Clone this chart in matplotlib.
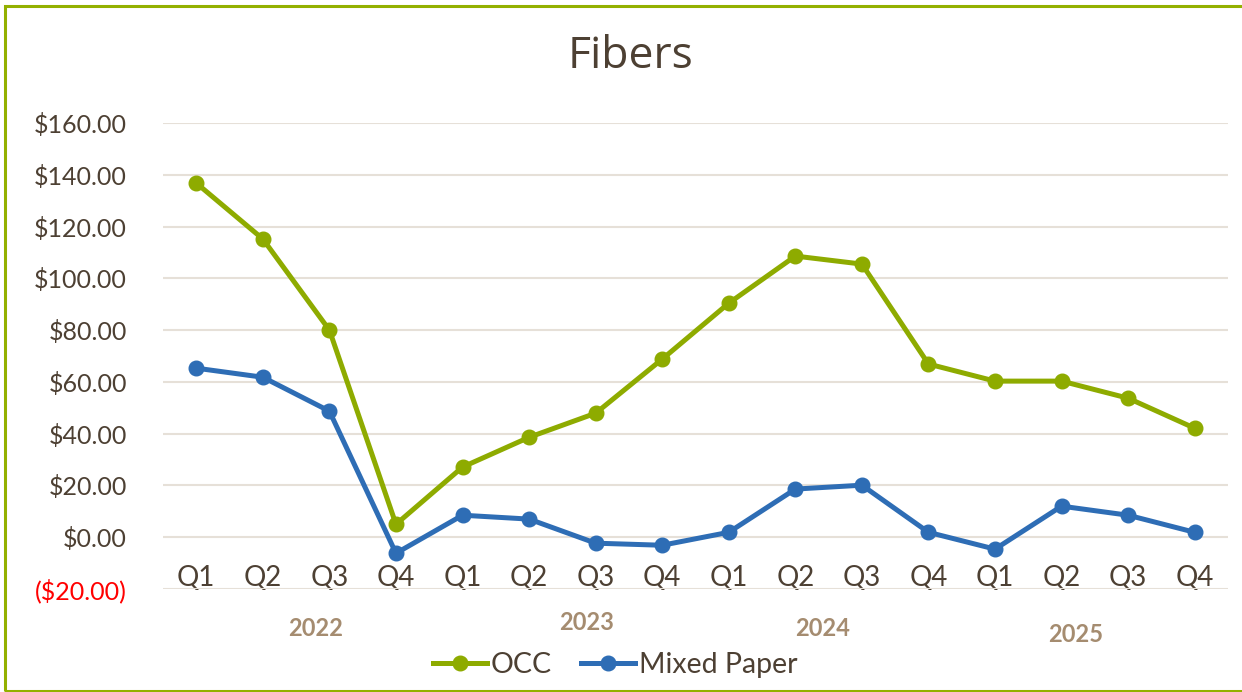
import matplotlib.pyplot as plt
from matplotlib.patches import Rectangle
from matplotlib.transforms import blended_transform_factory

# data
quarters = ['Q1', 'Q2', 'Q3', 'Q4'] * 4
years = ['2022', '2023', '2024', '2025']
occ = [136.8, 115.2, 80.0, 5.0, 27.1, 38.6, 47.9, 68.8,
       90.4, 108.6, 105.5, 66.9, 60.3, 60.3, 53.7, 42.1]
mixed = [65.3, 61.8, 48.7, -6.2, 8.5, 7.0, -2.3, -3.1,
         1.9, 18.6, 20.1, 1.9, -4.6, 12.0, 8.5, 1.9]
yticks = [-20, 0, 20, 40, 60, 80, 100, 120, 140, 160]

# year label spots (in category units) and heights, as they sit in the original
year_x = [1.79, 5.87, 9.41, 13.21]
year_y = [629, 622, 628, 635]

txt = '#4d4033'
green = '#8eab00'
blue = '#2e6db5'

plt.rcParams['font.family'] = ['Lato', 'DejaVu Sans']

fig = plt.figure(figsize=(12.42, 6.92), dpi=100)
ax = fig.add_axes([163 / 1242, 1 - 589 / 692, (1228 - 163) / 1242, (589 - 123) / 692])

x = list(range(len(occ)))
ax.plot(x, occ, color=green, lw=3.6, marker='o', ms=10.5, label='OCC', zorder=3)
ax.plot(x, mixed, color=blue, lw=3.6, marker='o', ms=10.5, label='Mixed Paper', zorder=3)

ax.set_xlim(-0.5, 15.5)
ax.set_ylim(-20, 160)
ax.set_yticks(yticks)
ax.set_yticklabels(['($%.2f)' % -v if v < 0 else '$%.2f' % v for v in yticks],
                   fontsize=18, color=txt)
for lab, v in zip(ax.get_yticklabels(), yticks):
    if v < 0:
        lab.set_color('#ff0000')
ax.tick_params(axis='y', length=0, pad=26)

ax.set_xticks(x)
ax.set_xticklabels(quarters, fontsize=20, color=txt, va='baseline')
ax.tick_params(axis='x', length=0, pad=-2)

ax.grid(axis='y', color='#e6e0d8', lw=1.5)
ax.set_axisbelow(True)
for s in ax.spines.values():
    s.set_visible(False)

yr_tr = blended_transform_factory(ax.transData, fig.transFigure)
for xp, yp, yr in zip(year_x, year_y, years):
    ax.text(xp, 1 - yp / 692, yr, transform=yr_tr,
            ha='center', va='center', fontsize=17, fontweight='bold', color='#a58c70')

fig.text(631 / 1242, 1 - 57 / 692, 'Fibers', ha='center', va='center',
         fontsize=32, color=txt, family=['Open Sans', 'DejaVu Sans'])

leg = fig.legend(loc='center', bbox_to_anchor=(615 / 1242, 1 - 665 / 692), ncol=2,
                 frameon=False, fontsize=20.5, handlelength=1.9, columnspacing=1.0,
                 handletextpad=0.15)
for t in leg.get_texts():
    t.set_color(txt)

fig.patches.append(Rectangle((5 / 1242, 1 / 692), 1.2, 685.5 / 692, transform=fig.transFigure,
                             fill=False, edgecolor='#93b000', lw=2.2, clip_on=False))

fig.savefig('out.png', dpi=100)
